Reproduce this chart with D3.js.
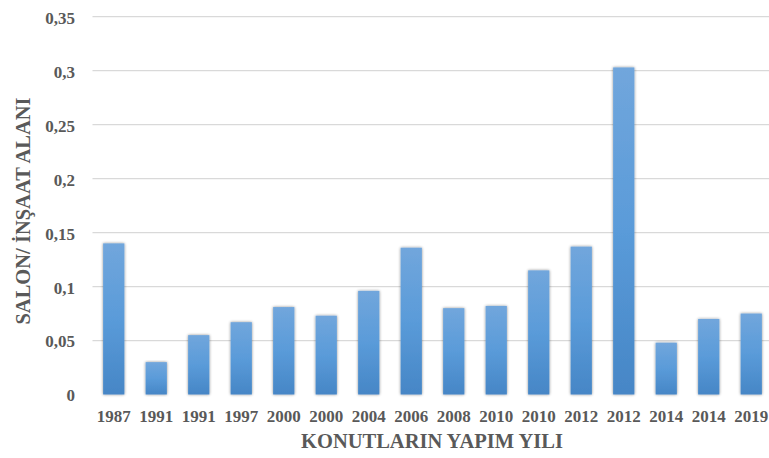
<!DOCTYPE html>
<html>
<head>
<meta charset="utf-8">
<script src="https://cdn.jsdelivr.net/npm/d3@7"></script>
<style>
  html, body { margin: 0; padding: 0; background: #fff; }
  svg { display: block; }
</style>
</head>
<body>
<div id="chart"></div>
<script>
// Construction year of each dwelling (repeated years are separate dwellings)
const years = ["1987","1991","1991","1997","2000","2000","2004","2006","2008","2010","2010","2012","2012","2014","2014","2019"];
// Living-room area / construction area ratio
const ratios = [0.14, 0.03, 0.055, 0.067, 0.081, 0.073, 0.096, 0.136, 0.080, 0.082, 0.115, 0.137, 0.303, 0.048, 0.070, 0.075];
const yTicks = [0, 0.05, 0.1, 0.15, 0.2, 0.25, 0.3, 0.35];
const yTitle = "SALON/ İNŞAAT ALANI";
const xTitle = "KONUTLARIN YAPIM YILI";

const W = 769, H = 458;
const plot = { left: 92.5, right: 772.5, top: 16.7, bottom: 394.5 };
const serif = "'Liberation Serif', 'Times New Roman', serif";

const svg = d3.select("#chart").append("svg")
  .attr("width", W).attr("height", H);

const defs = svg.append("defs");
const grad = defs.append("linearGradient")
  .attr("id", "barFill").attr("x1", 0).attr("y1", 0).attr("x2", 0).attr("y2", 1);
grad.append("stop").attr("offset", "0%").attr("stop-color", "#71a6dc");
grad.append("stop").attr("offset", "50%").attr("stop-color", "#5a9bd9");
grad.append("stop").attr("offset", "100%").attr("stop-color", "#4686c6");

const shadow = defs.append("filter").attr("id", "barShadow")
  .attr("x", "-40%").attr("y", "-5%").attr("width", "180%").attr("height", "110%");
shadow.append("feGaussianBlur").attr("in", "SourceAlpha").attr("stdDeviation", 1.6).attr("result", "b");
shadow.append("feComponentTransfer").attr("in", "b").attr("result", "s")
  .append("feFuncA").attr("type", "linear").attr("slope", 0.45);
const merge = shadow.append("feMerge");
merge.append("feMergeNode").attr("in", "s");
merge.append("feMergeNode").attr("in", "SourceGraphic");

const x = d3.scaleBand()
  .domain(d3.range(years.length))
  .range([plot.left, plot.right])
  .paddingInner(0.5).paddingOuter(0.25);

const y = d3.scaleLinear()
  .domain([0, 0.35])
  .range([plot.bottom, plot.top]);

const fmt = v => String(v).replace(".", ",");

// Horizontal gridlines
svg.append("g")
  .selectAll("line")
  .data(yTicks.filter(t => t > 0))
  .join("line")
  .attr("x1", plot.left).attr("x2", plot.right)
  .attr("y1", d => y(d)).attr("y2", d => y(d))
  .attr("stroke", "#d9d9d9").attr("stroke-width", 1.3);

// Y axis labels
const yAxis = svg.append("g")
  .attr("transform", `translate(${plot.left - 17.5},1)`)
  .call(d3.axisLeft(y).tickValues(yTicks).tickFormat(fmt).tickSize(0).tickPadding(0));
yAxis.select(".domain").remove();
yAxis.selectAll("text")
  .attr("font-family", serif)
  .attr("font-weight", "bold").attr("font-size", "17px")
  .attr("fill", "#595959");

// Bars
svg.append("g")
  .selectAll("rect")
  .data(ratios)
  .join("rect")
  .attr("x", (d, i) => x(i))
  .attr("width", x.bandwidth())
  .attr("y", d => y(d))
  .attr("height", d => y(0) - y(d))
  .attr("fill", "url(#barFill)")
  .attr("filter", "url(#barShadow)");

// X axis labels
const xAxis = svg.append("g")
  .attr("transform", `translate(0,410.4)`)
  .call(d3.axisBottom(x).tickFormat(i => years[i]).tickSize(0).tickPadding(0));
xAxis.select(".domain").remove();
xAxis.selectAll("text")
  .attr("font-family", serif)
  .attr("font-weight", "bold").attr("font-size", "17px")
  .attr("fill", "#595959");

// Axis titles
svg.append("text")
  .attr("x", 432).attr("y", 447.5)
  .attr("text-anchor", "middle")
  .attr("font-family", serif)
  .attr("font-weight", "bold").attr("font-size", "20.5px")
  .attr("fill", "#595959")
  .text(xTitle);

svg.append("text")
  .attr("transform", "translate(30,211) rotate(-90)")
  .attr("text-anchor", "middle")
  .attr("font-family", serif)
  .attr("font-weight", "bold").attr("font-size", "20.5px")
  .attr("fill", "#595959")
  .text(yTitle);
</script>
</body>
</html>
